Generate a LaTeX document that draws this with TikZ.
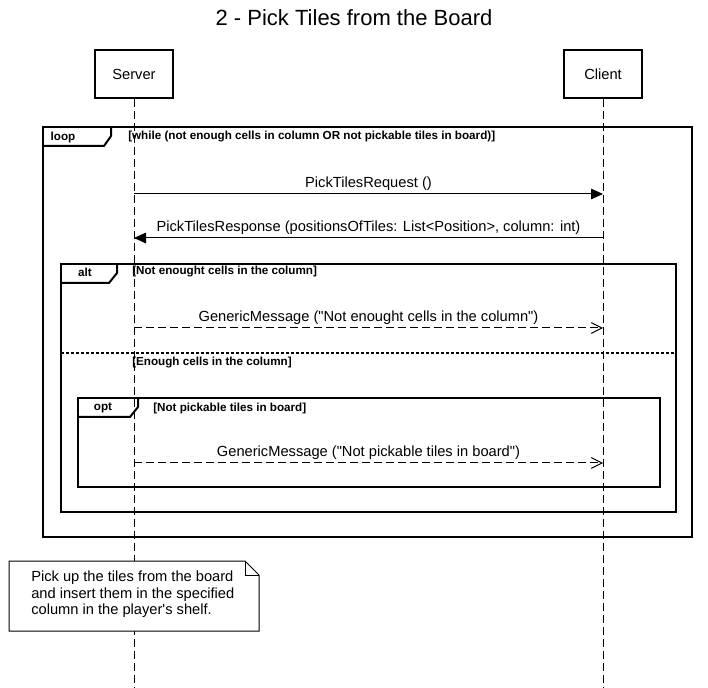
\documentclass[tikz,border=0pt]{standalone}
\usepackage{fontspec}
\setmainfont{Liberation Sans}
\usetikzlibrary{arrows.meta}

\tikzset{
  actorbox/.style={draw, line width=1.5pt, fill=white, minimum width=58.5pt,
    minimum height=36pt, inner sep=0pt, font=\fontsize{11}{13}\selectfont},
  lifeline/.style={line width=0.75pt, dash pattern=on 6pt off 3pt},
  frameline/.style={line width=1.5pt},
  altsplit/.style={line width=1.5pt, dash pattern=on 2.25pt off 1.5pt},
  callmsg/.style={line width=0.75pt, -{Triangle[length=9pt,width=8pt]}},
  replymsg/.style={line width=0.75pt, dash pattern=on 6pt off 3pt,
    -{Straight Barb[length=8pt,width=8pt,line width=0.75pt]}},
  msglabel/.style={font=\fontsize{11}{13}\selectfont, inner sep=1pt},
  guard/.style={anchor=west, inner sep=0pt, font=\bfseries\fontsize{8.75}{10}\selectfont},
  tablabel/.style={inner sep=0pt, font=\bfseries\fontsize{8.75}{10}\selectfont},
}

\begin{document}
\begin{tikzpicture}[x=0.75pt, y=-0.75pt]
  \useasboundingbox (0,0) rectangle (708,688);

  \node[font=\fontsize{16.5}{19}\selectfont] (title) at (354,18) {2 - Pick Tiles from the Board};

  % participants and lifelines
  \node[actorbox] (server) at (134,74) {Server};
  \node[actorbox] (client) at (603,74) {Client};
  \coordinate (server-end) at (134,688);
  \coordinate (client-end) at (603,688);
  \draw[lifeline] (server.south) -- (server-end);
  \draw[lifeline] (client.south) -- (client-end);

  % loop frame
  \draw[frameline] (43,127) rectangle (692,537);
  \draw[frameline] (43,146) -- (104,146) -- (111,136) -- (111,127);
  \node[tablabel] (loop) at (63,137) {loop};
  \node[guard] (loop-guard) at (128,137) {[while (not enough cells in column OR not pickable tiles in board)]};

  % request / response
  \coordinate (req-s) at (134,194);
  \coordinate (req-c) at (603,194);
  \draw[callmsg] (req-s) -- node[msglabel, above=1.5pt] (req) {PickTilesRequest ()} (req-c);
  \coordinate (res-c) at (603,238);
  \coordinate (res-s) at (134,238);
  \draw[callmsg] (res-c) -- node[msglabel, above=1.5pt] (res) {PickTilesResponse (positionsOfTiles: List<Position>, column: int)} (res-s);

  % alt frame
  \draw[frameline] (61,264) rectangle (676,512);
  \draw[frameline] (61,283) -- (109,283) -- (117,273) -- (117,264);
  \node[tablabel] (alt) at (85,272) {alt};
  \node[guard] (alt-guard) at (132,272) {[Not enought cells in the column]};

  \coordinate (gm1-s) at (134,328);
  \coordinate (gm1-c) at (603,328);
  \draw[replymsg] (gm1-s) -- node[msglabel, above=1.5pt] (gm1) {GenericMessage (\textquotedbl Not enought cells in the column\textquotedbl)} (gm1-c);

  \draw[altsplit] (61,353) -- (676,353);
  \node[guard] (else-guard) at (132,363) {[Enough cells in the column]};

  % opt frame
  \draw[frameline] (78,398) rectangle (660,487);
  \draw[frameline] (78,417) -- (130,417) -- (138,407) -- (138,398);
  \node[tablabel] (opt) at (103,408) {opt};
  \node[guard] (opt-guard) at (153,408) {[Not pickable tiles in board]};

  \coordinate (gm2-s) at (134,463);
  \coordinate (gm2-c) at (603,463);
  \draw[replymsg] (gm2-s) -- node[msglabel, above=1.5pt] (gm2) {GenericMessage (\textquotedbl Not pickable tiles in board\textquotedbl)} (gm2-c);

  % note
  \draw[line width=0.75pt, fill=white] (9,561) -- (245,561) -- (259,575) -- (259,631) -- (9,631) -- cycle;
  \draw[line width=0.75pt] (245,561) -- (245,575) -- (259,575);
  \node[anchor=north west, align=left, inner sep=0pt, font=\fontsize{11}{12.3}\selectfont] (note) at (31,571)
    {Pick up the tiles from the board\\and insert them in the specified\\column in the player\textquotesingle s shelf.};
\end{tikzpicture}
\end{document}
